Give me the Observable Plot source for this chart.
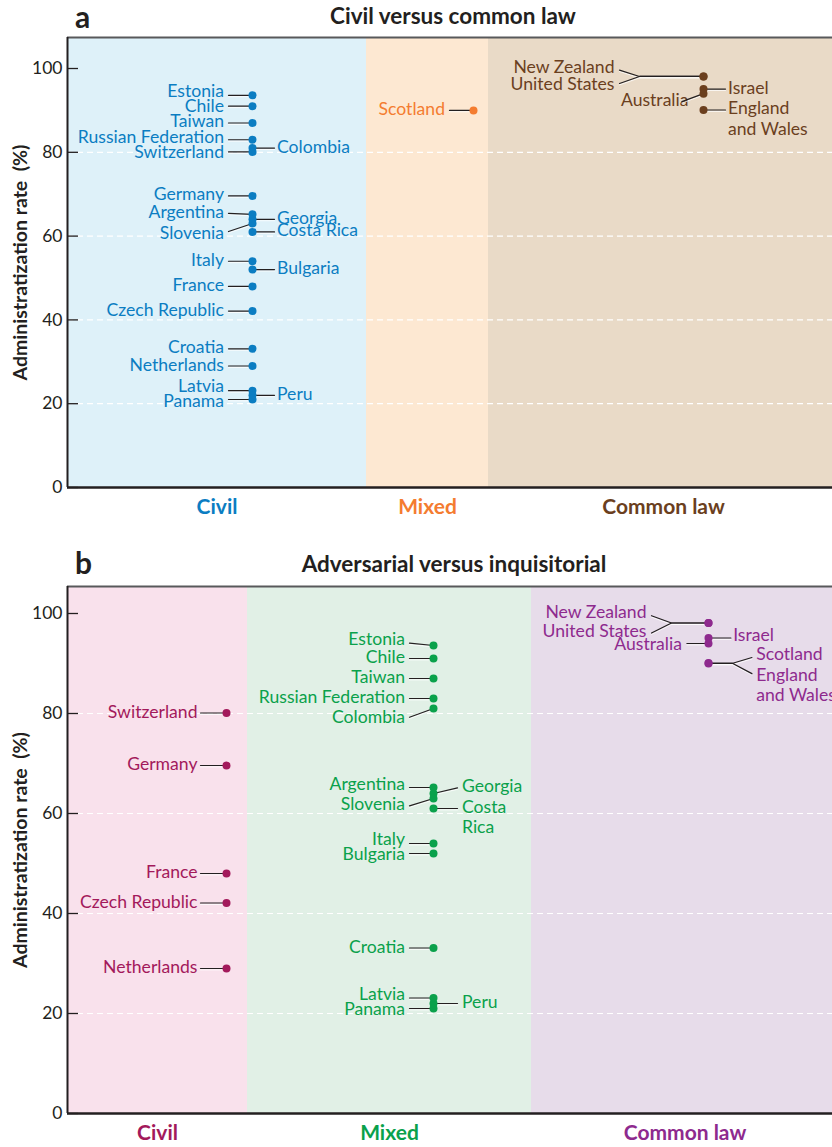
<!DOCTYPE html>
<html><head><meta charset="utf-8">
<script src="https://cdn.jsdelivr.net/npm/d3@7"></script>
<script src="https://cdn.jsdelivr.net/npm/@observablehq/plot@0.6"></script>
<style>
html,body{margin:0;padding:0;background:#fff;overflow:hidden}
body{font-family:Lato,sans-serif;color:#231f20}
#wrap{position:relative;width:832px;height:1147px;overflow:hidden}
.lab{position:absolute;font-weight:bold;line-height:1.1;white-space:nowrap}
.ttl{position:absolute;font-weight:bold;line-height:1;text-align:center;width:600px;white-space:nowrap}
.panel{position:absolute;left:0;width:832px}
</style></head><body><div id="wrap">
<div class="lab" id="ha" style="left:75px;top:0px;font-size:30px"></div>
<div class="ttl" id="ta" style="left:153px;top:5px;font-size:22.5px"></div>
<div class="panel" id="pa" style="top:34px"></div>
<div class="lab" id="hb" style="left:75px;top:546px;font-size:30px"></div>
<div class="ttl" id="tb" style="left:154px;top:553px;font-size:22.5px"></div>
<div class="panel" id="pb" style="top:583px"></div>
</div>
<script>
// ---------------- DATA ----------------
const countries = ["Estonia","Chile","Taiwan","Russian Federation","Colombia","Switzerland","Germany",
  "Argentina","Georgia","Slovenia","Costa Rica","Italy","Bulgaria","France","Czech Republic","Croatia",
  "Netherlands","Latvia","Peru","Panama","New Zealand","United States","Israel","Australia",
  "England and Wales","Scotland"];
const rates = [93.6, 91.0, 87.0, 83.0, 81.0, 80.1, 69.6,
  65.2, 64.0, 63.0, 61.0, 54.0, 52.0, 48.0, 42.1, 33.1,
  29.0, 23.1, 22.0, 21.0, 98.1, 98.1, 95.1, 94.0,
  90.1, 90.0];
const legalFamily = ["Civil","Civil","Civil","Civil","Civil","Civil","Civil",
  "Civil","Civil","Civil","Civil","Civil","Civil","Civil","Civil","Civil",
  "Civil","Civil","Civil","Civil","Common law","Common law","Common law","Common law",
  "Common law","Mixed"];
const procedureType = ["Mixed","Mixed","Mixed","Mixed","Mixed","Civil","Civil",
  "Mixed","Mixed","Mixed","Mixed","Mixed","Mixed","Civil","Civil","Mixed",
  "Civil","Mixed","Mixed","Mixed","Common law","Common law","Common law","Common law",
  "Common law","Common law"];
const categories = ["Civil","Mixed","Common law"];
const yTicks = [0, 20, 40, 60, 80, 100];
const gridTicks = [20, 40, 60, 80];
const panelLetters = ["a", "b"];
const panelTitles = ["Civil versus common law", "Adversarial versus inquisitorial"];
const yLabel = "Administratization rate  (%)";

// ---------------- LAYOUT (positions / styles) ----------------
const layoutA = {
  bands: [[0, 299], [299, 421], [421, 771]],
  dotX: [185, 406, 636],
  bandFill: ["#def1f9", "#fde8d2", "#e9dac7"],
  ink: ["#0b7dc2", "#f47c30", "#6b3f1e"],
  ymax: 107.4, plotH: 450,
  labels: {
    "Estonia": {side:-1, tdy:-2.5}, "Chile": {side:-1, tdy:1.5}, "Taiwan": {side:-1},
    "Russian Federation": {side:-1, tdy:-1}, "Colombia": {side:1},
    "Switzerland": {side:-1, tdy:2}, "Germany": {side:-1},
    "Argentina": {side:-1, tdy:-1, ldy:-1}, "Georgia": {side:1},
    "Slovenia": {side:-1, tdy:11, ldy:8}, "Costa Rica": {side:1},
    "Italy": {side:-1}, "Bulgaria": {side:1}, "France": {side:-1},
    "Czech Republic": {side:-1}, "Croatia": {side:-1}, "Netherlands": {side:-1},
    "Latvia": {side:-1, tdy:-3}, "Peru": {side:1}, "Panama": {side:-1, tdy:3},
    "New Zealand": {side:-1, L:84, E:64, tdy:-8, ldy:-6.4, gap:5},
    "United States": {side:-1, L:84, E:64, tdy:8.6, ldy:7, gap:5},
    "Israel": {side:1},
    "Australia": {side:-1, L:21.6, tdy:8.3, ldy:8, gap:-6.6},
    "England and Wales": {side:1, text:"England\nand Wales"},
    "Scotland": {side:-1}
  }
};
const layoutB = {
  bands: [[0, 180], [180, 464], [464, 771]],
  dotX: [159, 366, 641],
  bandFill: ["#f9e1ec", "#e1f0e6", "#e7dcea"],
  ink: ["#a3195b", "#0aa14b", "#8e2a8e"],
  ymax: 105.4, plotH: 527,
  labels: {
    "Switzerland": {side:-1, L:26, gap:3}, "Germany": {side:-1, L:26, gap:3},
    "France": {side:-1, L:26, gap:3}, "Czech Republic": {side:-1, L:26, gap:3},
    "Netherlands": {side:-1, L:26, gap:3},
    "Estonia": {side:-1, tdy:-5, ldy:-2.3}, "Chile": {side:-1}, "Taiwan": {side:-1}, "Russian Federation": {side:-1},
    "Colombia": {side:-1, tdy:10, ldy:8.7},
    "Argentina": {side:-1, tdy:-2},
    "Georgia": {side:1, L:24, tdy:-5.6, ldy:-5.6, gap:4.5},
    "Slovenia": {side:-1, tdy:6.7, ldy:7.4},
    "Costa Rica": {side:1, L:24, gap:4.5, text:"Costa\nRica"},
    "Italy": {side:-1, tdy:-3.3}, "Bulgaria": {side:-1, tdy:1.7},
    "Croatia": {side:-1}, "Latvia": {side:-1, tdy:-2.7}, "Panama": {side:-1, tdy:1.7},
    "Peru": {side:1, L:24, gap:4.5},
    "New Zealand": {side:-1, L:57, E:37, tdy:-9.3, ldy:-7.3, gap:5},
    "United States": {side:-1, L:57, E:37, tdy:9, ldy:10, gap:5},
    "Israel": {side:1, L:22.4, tdy:-1.6, gap:2.3},
    "Australia": {side:-1, L:21.6, tdy:1.7, gap:5},
    "Scotland": {side:1, L:43.4, E:23.4, tdy:-8.4, ldy:-6, gap:4.3},
    "England and Wales": {side:1, L:43.4, E:23.4, tdy:13.3, ldy:10.6, gap:4.3, text:"England\nand Wales"}
  }
};

const FS = 17.6;

function makePanel(family, L) {
  const {ymax, plotH} = L;
  const k = plotH / ymax;
  const mt = 3, mb = 34;
  const data = countries.map((name, i) => {
    const g = categories.indexOf(family[i]);
    return {name, value: rates[i], g, x: L.dotX[g], ink: L.ink[g]};
  });
  const labels = data.map(d => {
    const s = L.labels[d.name] || {side:-1};
    const side = s.side;
    const Ln = s.L ?? (side < 0 ? 24 : 22);
    const gap = s.gap ?? (side < 0 ? 4.5 : 2.5);
    const tdy = s.tdy ?? 0, ldy = s.ldy ?? 0, E = s.E ?? 0;
    return {...d, side, text: s.text ?? d.name,
      tx: d.x + side * (Ln + gap), ty: d.value - tdy / k,
      path: [[d.x + side * Ln, d.value - ldy / k], [d.x + side * E, d.value], [d.x, d.value]]};
  });
  const segs = labels.flatMap(l => l.path.map(([x, y]) => ({name: l.name, x, y})));
  const bands = categories.map((c, i) => ({c, x1: L.bands[i][0], x2: L.bands[i][1], fill: L.bandFill[i], ink: L.ink[i]}));
  const ink = "#231f20";
  const textDy = -0.39 * FS - 3;
  return Plot.plot({
    width: 832, height: mt + plotH + mb,
    marginTop: mt, marginBottom: mb, marginLeft: 67, marginRight: 0,
    x: {domain: [0, 765], axis: null},
    y: {domain: [0, ymax], axis: null},
    color: {type: "identity"},
    style: {fontFamily: "Lato, sans-serif", fontSize: FS + "px", color: ink, background: "transparent"},
    marks: [
      Plot.rect(bands, {x1: "x1", x2: "x2", y1: () => 0, y2: () => ymax, fill: "fill"}),
      Plot.ruleY(gridTicks, {stroke: "#ffffff", strokeDasharray: "6,4", strokeWidth: 1.2}),
      Plot.ruleY(yTicks, {x1: () => 0, x2: () => 11, stroke: ink, strokeWidth: 1.3}),
      Plot.axisY(yTicks, {tickSize: 0, tickPadding: 5, fontSize: 17.5, label: null, fill: ink}),
      Plot.ruleY([ymax], {stroke: "#58595b", strokeWidth: 2}),
      Plot.ruleX([0], {stroke: ink, strokeWidth: 2}),
      Plot.ruleY([0], {stroke: ink, strokeWidth: 2.5}),
      Plot.text(bands, {x: d => (d.x1 + Math.min(d.x2, 771)) / 2, y: () => 0, text: "c", fill: "ink",
        dy: 20, fontWeight: "bold", fontSize: 21}),
      Plot.text([yLabel], {text: d => d, frameAnchor: "left", textAnchor: "middle", rotate: -90, dx: -47,
        fontWeight: "bold", fontSize: 19.5, fill: ink}),
      Plot.text(labels.filter(l => l.side < 0), {x: "tx", y: "ty", text: "text", textAnchor: "end",
        lineAnchor: "top", dy: textDy, fill: "ink", fontSize: FS, lineHeight: 1.15}),
      Plot.text(labels.filter(l => l.side > 0), {x: "tx", y: "ty", text: "text", textAnchor: "start",
        lineAnchor: "top", dy: textDy, fill: "ink", fontSize: FS, lineHeight: 1.15}),
      Plot.line(segs, {x: "x", y: "y", z: "name", stroke: "#ffffff", strokeWidth: 1, dy: 1.4, strokeOpacity: 0.8}),
      Plot.line(segs, {x: "x", y: "y", z: "name", stroke: ink, strokeWidth: 1.2}),
      Plot.dot(data, {x: "x", y: "value", r: 4, fill: "ink"})
    ]
  });
}

document.getElementById("ha").textContent = panelLetters[0];
document.getElementById("hb").textContent = panelLetters[1];
document.getElementById("ta").textContent = panelTitles[0];
document.getElementById("tb").textContent = panelTitles[1];
document.getElementById("pa").appendChild(makePanel(legalFamily, layoutA));
document.getElementById("pb").appendChild(makePanel(procedureType, layoutB));
</script>
</body></html>
